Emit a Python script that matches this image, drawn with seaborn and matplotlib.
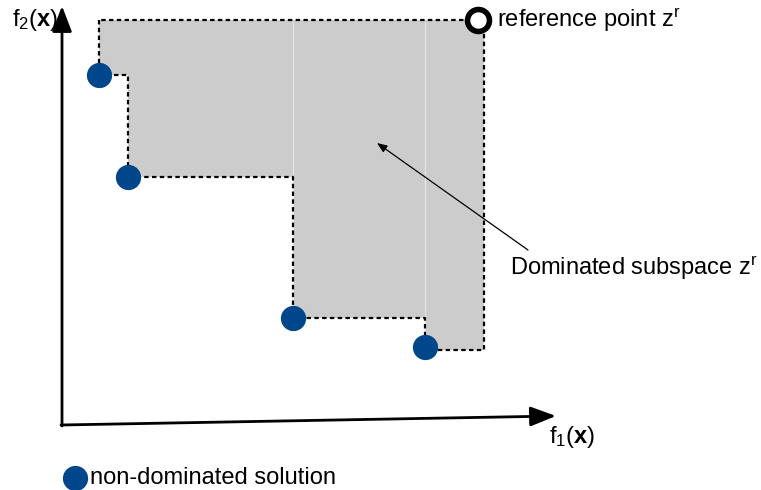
import matplotlib
matplotlib.use("Agg")
import matplotlib.pyplot as plt
import numpy as np
import pandas as pd
import seaborn as sns

# -----------------------------------------------------------------------------
# Plotting attributes
# -----------------------------------------------------------------------------
sns.set_theme(style="white")
plt.rcParams["font.family"] = ["Liberation Sans", "DejaVu Sans"]
plt.rcParams["mathtext.fontset"] = "custom"
plt.rcParams["mathtext.rm"] = "Liberation Sans"
plt.rcParams["mathtext.it"] = "Liberation Sans"
plt.rcParams["mathtext.bf"] = "Liberation Sans:bold"
plt.rcParams["text.color"] = "black"

blue = "#00468b"
grey = "#cccccc"
fs = 17

# -----------------------------------------------------------------------------
# Data (diagram coordinates, y grows downward)
# -----------------------------------------------------------------------------
f1 = [99, 128, 293, 425]
f2 = [75, 177, 318, 347]
ref_f1 = 478
ref_f2 = 20

# dominated region boundary (staircase up to reference point)
region_x = [99, 99, 128, 128, 293, 293, 425, 425, 484, 484, 99]
region_y = [20, 75, 75, 177, 177, 318, 318, 350, 350, 20, 20]

df = pd.DataFrame({"f1": f1, "f2": f2})

# -----------------------------------------------------------------------------
# Plot
# -----------------------------------------------------------------------------
fig = plt.figure(figsize=(7.61, 4.90), dpi=100)
ax = fig.add_axes([0, 0, 1, 1])
ax.set_xlim(0, 761)
ax.set_ylim(490, 0)
ax.axis("off")

# dominated subspace
ax.fill(region_x, region_y, color=grey, lw=0, zorder=1)
ax.plot(region_x, region_y, color="black", lw=1.6, ls=(0, (2, 1.5)), zorder=2)
for xv, yv in zip(f1[2:], f2[2:]):
    ax.plot([xv, xv], [ref_f2 + 2, yv - 2], color="#e2e2e2", lw=1, zorder=1.5)

# axes arrows
arrow = dict(arrowstyle="-|>,head_length=1.3,head_width=0.5",
             color="black", lw=2, shrinkA=0, shrinkB=0)
ax.annotate("", xy=(62, 6), xytext=(62, 426), arrowprops=arrow, zorder=3)
ax.annotate("", xy=(556, 416), xytext=(61, 425), arrowprops=arrow, zorder=3)
ax.text(12, 20, r"f$_2$($\mathbf{x}$)", fontsize=fs, ha="left", va="center")
ax.text(549, 437, r"f$_1$($\mathbf{x}$)", fontsize=fs, ha="left", va="center")

# non-dominated solutions
sns.scatterplot(x="f1", y="f2", data=df, ax=ax, s=330, color=blue,
                edgecolor=blue, linewidth=0, zorder=4, legend=False)

# reference point
ax.scatter([ref_f1], [ref_f2], s=250, facecolor="white", edgecolor="black",
           linewidth=4, zorder=5)
ax.text(497, 20, r"reference point z$^\mathregular{r}$", fontsize=fs,
        ha="left", va="center")

# annotation
ax.annotate("", xy=(377, 143), xytext=(528, 250),
            arrowprops=dict(arrowstyle="-|>,head_length=0.5,head_width=0.2",
                            color="black", lw=0.9, shrinkA=0, shrinkB=0))
ax.text(510, 268, r"Dominated subspace z$^\mathregular{r}$", fontsize=fs,
        ha="left", va="center")

# legend
ax.scatter([75], [478], s=330, color=blue, linewidth=0)
ax.text(90, 478, "non-dominated solution", fontsize=fs, ha="left", va="center")

plt.savefig("out.png", dpi=100)
